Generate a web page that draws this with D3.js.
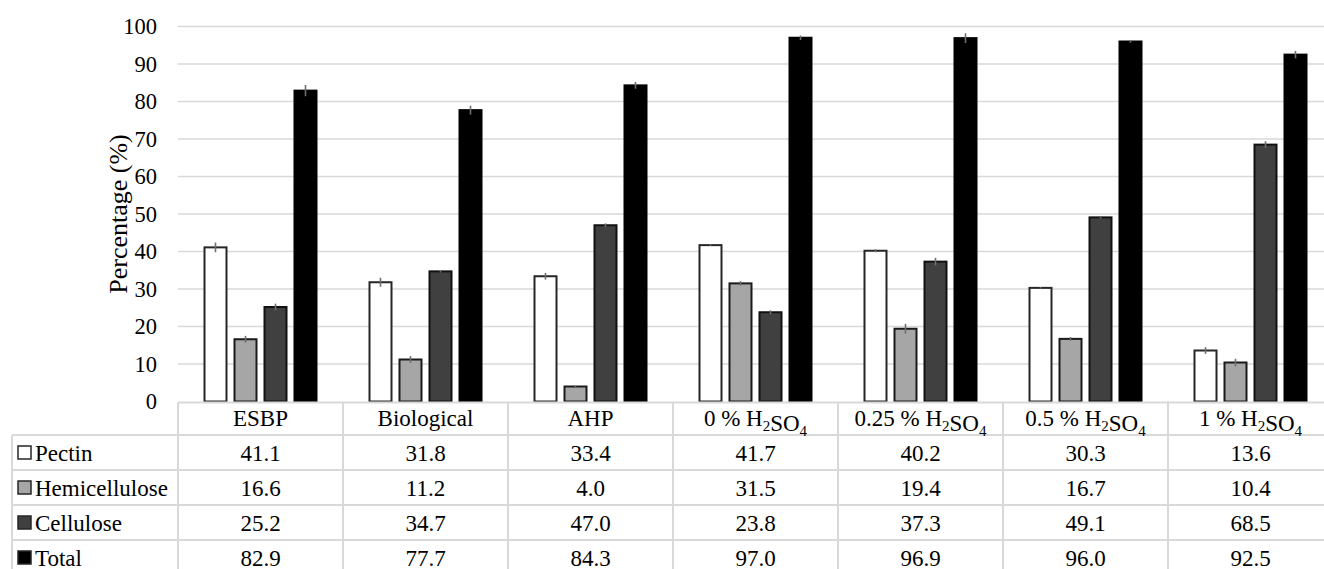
<!DOCTYPE html>
<html>
<head>
<meta charset="utf-8">
<script src="https://cdn.jsdelivr.net/npm/d3@7"></script>
<style>
  html, body { margin: 0; padding: 0; background: #fff; }
  svg { display: block; }
  svg text { font-family: "Liberation Serif", "Times New Roman", serif !important; }
</style>
</head>
<body>
<svg id="chart" width="1324" height="569"></svg>
<script>
// ---------- data ----------
const categories = ["ESBP", "Biological", "AHP", "0 % H2SO4", "0.25 % H2SO4", "0.5 % H2SO4", "1 % H2SO4"];
const seriesNames = ["Pectin", "Hemicellulose", "Cellulose", "Total"];
const pectin        = [41.1, 31.8, 33.4, 41.7, 40.2, 30.3, 13.6];
const hemicellulose = [16.6, 11.2, 4.0, 31.5, 19.4, 16.7, 10.4];
const cellulose     = [25.2, 34.7, 47.0, 23.8, 37.3, 49.1, 68.5];
const total         = [82.9, 77.7, 84.3, 97.0, 96.9, 96.0, 92.5];
// estimated error (± half-length)
const pectinErr        = [1.3, 1.2, 0.9, 0.2, 0.4, 0.2, 0.9];
const hemicelluloseErr = [0.9, 0.9, 0.2, 0.6, 1.3, 0.5, 1.0];
const celluloseErr     = [0.9, 0.3, 0.5, 0.5, 1.0, 0.3, 0.9];
const totalErr         = [1.5, 1.2, 0.9, 0.6, 1.3, 0.3, 1.0];
const yTicks = [0, 10, 20, 30, 40, 50, 60, 70, 80, 90, 100];

const seriesValues = [pectin, hemicellulose, cellulose, total];
const seriesErrors = [pectinErr, hemicelluloseErr, celluloseErr, totalErr];
const fills   = ["#ffffff", "#a6a6a6", "#404040", "#000000"];
const strokes = ["#262626", "#1a1a1a", "#111111", "#000000"];

// ---------- layout ----------
const svg = d3.select("#chart");
const plotLeft = 178, plotRight = 1333, plotTop = 26.5, plotBottom = 401.5;
const tableLeft = 12;
const headerBottom = 435, rowH = 35;
const gridColor = "#d9d9d9";

const x = d3.scaleBand().domain(categories).range([plotLeft, plotRight]).padding(0);
const xInner = d3.scaleBand().domain(seriesNames).range([25.5, 139.5]).paddingInner(0.2).paddingOuter(0);
const y = d3.scaleLinear().domain([0, 100]).range([plotBottom, plotTop]);

// gridlines
svg.append("g").selectAll("line").data(yTicks.filter(t => t > 0)).join("line")
  .attr("x1", plotLeft).attr("x2", 1324)
  .attr("y1", d => y(d)).attr("y2", d => y(d))
  .attr("stroke", gridColor).attr("stroke-width", 1.5);

// y tick labels via axis
const yAxis = svg.append("g").attr("transform", `translate(${plotLeft},0)`)
  .call(d3.axisLeft(y).tickValues(yTicks).tickSize(0).tickPadding(21));
yAxis.select(".domain").remove();
yAxis.attr("font-family", null).attr("font-size", null);
yAxis.selectAll("text")
  .attr("font-size", 22.5).attr("fill", "#000");

// y axis title
svg.append("text")
  .attr("transform", `translate(127,${(plotTop + plotBottom) / 2}) rotate(-90)`)
  .attr("text-anchor", "middle")
  .attr("font-size", 26)
  .attr("fill", "#000")
  .text("Percentage (%)");

// bars
const groups = svg.append("g").selectAll("g").data(seriesNames).join("g");
groups.each(function(name, si) {
  const g = d3.select(this);
  const vals = seriesValues[si];
  g.selectAll("rect").data(categories).join("rect")
    .attr("x", (c) => x(c) + xInner(name) + 1)
    .attr("width", xInner.bandwidth() - 2)
    .attr("y", (c, i) => y(vals[i]))
    .attr("height", (c, i) => plotBottom - y(vals[i]))
    .attr("fill", fills[si])
    .attr("stroke", strokes[si])
    .attr("stroke-width", 2);
});
// error bars
groups.each(function(name, si) {
  const g = d3.select(this);
  const vals = seriesValues[si], errs = seriesErrors[si];
  g.selectAll("line.err").data(categories).join("line")
    .attr("class", "err")
    .attr("x1", c => x(c) + xInner(name) + xInner.bandwidth() / 2)
    .attr("x2", c => x(c) + xInner(name) + xInner.bandwidth() / 2)
    .attr("y1", (c, i) => y(vals[i] + errs[i]))
    .attr("y2", (c, i) => y(vals[i] - errs[i]))
    .attr("stroke", "#6e6e6e").attr("stroke-width", 1.6);
});

// ---------- data table ----------
const tbl = svg.append("g");
const tableBottom = headerBottom + rowH * 4;
tbl.append("line").attr("x1", plotLeft).attr("x2", 1324).attr("y1", plotBottom + 1).attr("y2", plotBottom + 1)
  .attr("stroke", gridColor).attr("stroke-width", 2);
for (let r = 0; r <= 4; r++) {
  const yy = headerBottom + r * rowH;
  tbl.append("line").attr("x1", tableLeft).attr("x2", 1324).attr("y1", yy).attr("y2", yy)
    .attr("stroke", gridColor).attr("stroke-width", 2);
}
tbl.append("line").attr("x1", tableLeft).attr("x2", tableLeft).attr("y1", headerBottom).attr("y2", tableBottom)
  .attr("stroke", gridColor).attr("stroke-width", 2);
categories.forEach(c => {
  tbl.append("line").attr("x1", x(c)).attr("x2", x(c)).attr("y1", plotBottom + 1).attr("y2", tableBottom)
    .attr("stroke", gridColor).attr("stroke-width", 2);
});

// header labels with chemical-formula subscripts
function writeLabel(sel, label) {
  const tokens = label.match(/[A-Z]\d+|[^A-Z]+|[A-Z]/g);
  tokens.forEach(tok => {
    const m = tok.match(/^([A-Z])(\d+)$/);
    if (m) {
      sel.append("tspan").text(m[1]);
      sel.append("tspan").attr("font-size", 15).attr("dy", 5).text(m[2]);
      sel.append("tspan").attr("dy", -5).text("");
    } else {
      sel.append("tspan").text(tok);
    }
  });
}
categories.forEach(c => {
  const t = tbl.append("text")
    .attr("x", x(c) + x.bandwidth() / 2)
    .attr("y", (plotBottom + headerBottom) / 2 + 8)
    .attr("text-anchor", "middle")
    .attr("font-size", 23).attr("fill", "#000");
  writeLabel(t, c);
});

// rows
seriesNames.forEach((name, si) => {
  const cy = headerBottom + si * rowH + rowH / 2;
  tbl.append("rect")
    .attr("x", 18).attr("y", cy - 6.5).attr("width", 13).attr("height", 13)
    .attr("fill", fills[si]).attr("stroke", "#262626").attr("stroke-width", 1.5);
  tbl.append("text")
    .attr("x", 35).attr("y", cy + 8)
    .attr("font-size", 23).attr("fill", "#000")
    .text(name);
  categories.forEach((c, i) => {
    tbl.append("text")
      .attr("x", x(c) + x.bandwidth() / 2)
      .attr("y", cy + 8)
      .attr("text-anchor", "middle")
      .attr("font-size", 23).attr("fill", "#000")
      .text(seriesValues[si][i].toFixed(1));
  });
});
</script>
</body>
</html>
